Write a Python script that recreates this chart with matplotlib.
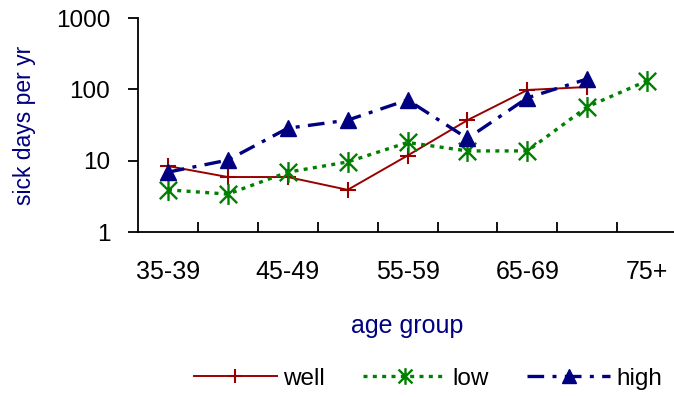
import numpy as np
import matplotlib.pyplot as plt
from matplotlib.path import Path

plt.rcParams['font.family'] = ['Liberation Sans', 'DejaVu Sans']

# ------------------------------------------------------------
# Data
# ------------------------------------------------------------
age_groups = ['35-39', '40-44', '45-49', '50-54', '55-59',
              '60-64', '65-69', '70-74', '75+']
well = [8.4, 5.9, 5.9, 3.9, 11.8, 37, 98, 108]
low = [3.9, 3.4, 6.9, 9.6, 18, 13.7, 13.7, 57, 132]
high = [6.9, 10.2, 28.5, 37, 71, 20.5, 76, 140]

x = np.arange(len(age_groups))

# X with a vertical bar through it (Excel-style star marker)
star = Path([(-1, -1), (1, 1), (-1, 1), (1, -1), (0, -1.2), (0, 1.2)],
            [Path.MOVETO, Path.LINETO] * 3)

fig = plt.figure(figsize=(6.74, 3.97), dpi=100)
ax = fig.add_axes([0.2047, 0.4156, 0.80, 0.539])

ax.plot(x[:len(well)], well, color='#990000', linestyle='-', linewidth=1.4,
        marker='+', markersize=12, markeredgewidth=1.5, label='well')
ax.plot(x[:len(low)], low, color='#008000', linestyle=(0, (1.2, 1.6)), linewidth=2.4,
        marker=star, markersize=15, markeredgewidth=1.7, markerfacecolor='none',
        label='low')
ax.plot(x[:len(high)], high, color='#000080', linestyle=(0, (5, 2.5, 1.2, 2.5)), linewidth=2.4,
        marker='^', markersize=12, label='high')

ax.set_yscale('log')
ax.set_ylim(1, 1000)
ax.set_yticks([1, 10, 100, 1000])
ax.set_yticklabels(['1', '10', '100', '1000'])
ax.yaxis.set_minor_locator(plt.NullLocator())
ax.tick_params(axis='y', which='major', direction='out', length=7, width=1.3,
               labelsize=17.5, pad=13)

ax.set_xlim(-0.5, len(age_groups) - 0.5)
ax.set_xticks(x[::2])
ax.set_xticklabels(age_groups[::2])
ax.set_xticks(np.arange(0.5, len(age_groups) - 0.5), minor=True)
ax.tick_params(axis='x', which='major', length=0, labelsize=18, pad=20)
ax.tick_params(axis='x', which='minor', direction='in', length=7, width=1.3)

for side in ['top', 'right']:
    ax.spines[side].set_visible(False)
for side in ['left', 'bottom']:
    ax.spines[side].set_linewidth(1.3)

ax.set_ylabel('sick days per yr', color='#000080', fontsize=16.5)
ax.set_xlabel('age group', color='#000080', fontsize=18, labelpad=22)
ax.yaxis.set_label_coords(-0.19, 0.5)

fig.legend(loc='center', bbox_to_anchor=(0.635, 0.046), ncol=3, frameon=False,
           fontsize=17.5, handlelength=3.4, handletextpad=0.25, columnspacing=1.6,
           markerscale=0.8, borderaxespad=0)

plt.savefig('out.png', dpi=100)
